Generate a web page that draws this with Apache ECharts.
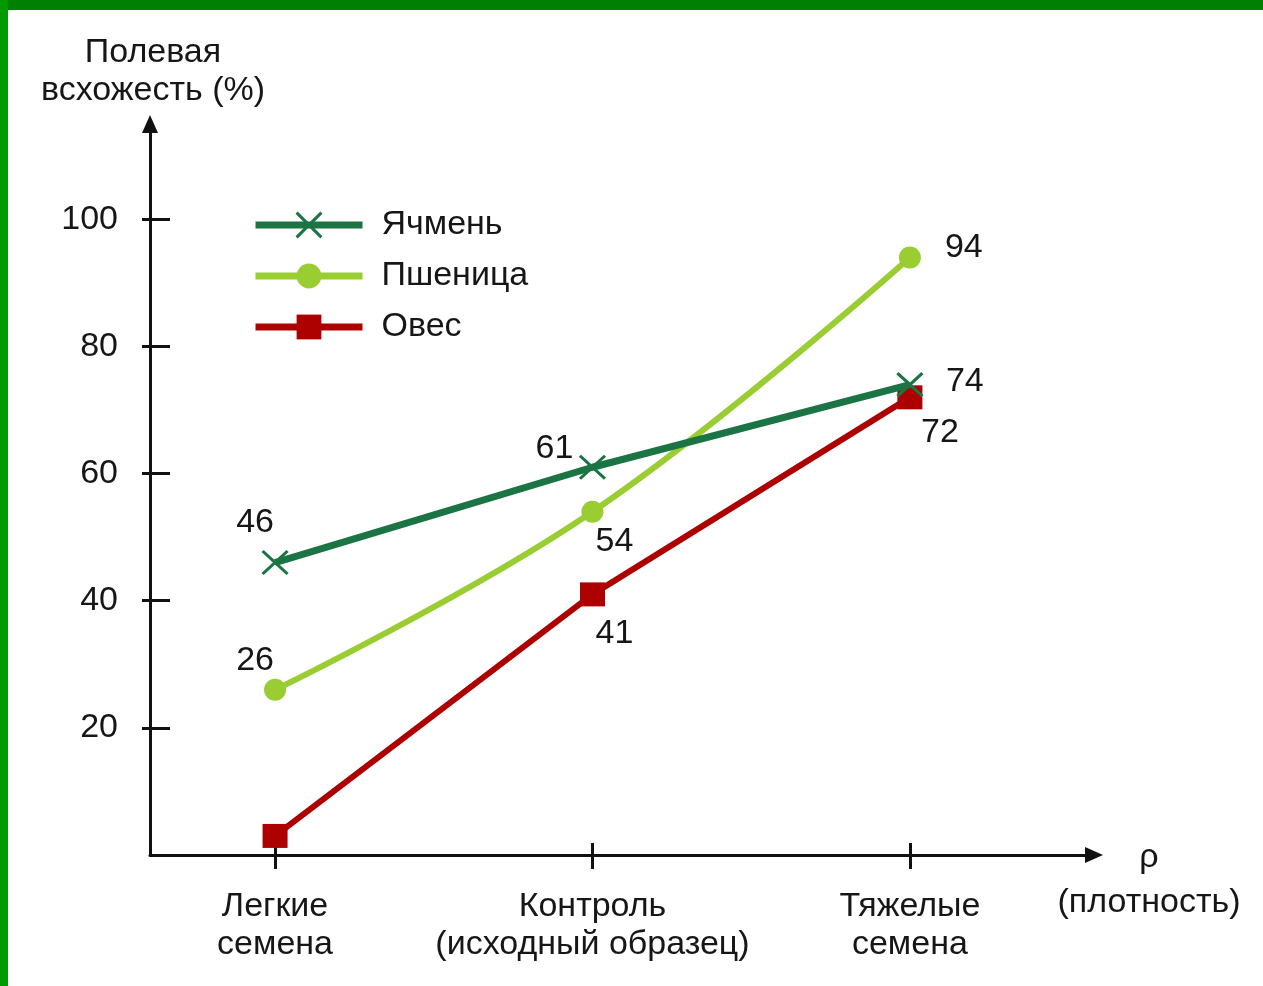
<!DOCTYPE html>
<html>
<head>
<meta charset="utf-8">
<script src="https://cdn.jsdelivr.net/npm/echarts@6/dist/echarts.min.js"></script>
<style>
  html, body { margin: 0; padding: 0; background: #ffffff; }
  #chart { width: 1263px; height: 986px; }
</style>
</head>
<body>
<div id="chart"></div>
<script>
// Field emergence of seed fractions by density
const categories = ['Легкие\nсемена', 'Контроль\n(исходный образец)', 'Тяжелые\nсемена'];
const seriesNames = ['Ячмень', 'Пшеница', 'Овес'];
const barley = [46, 61, 74];
const wheat = [26, 54, 94];
const oats = [3, 41, 72];
const oatsShown = [false, true, true];
const yTickValues = [20, 40, 60, 80, 100];
const xTickValues = [0, 1, 2];
const yAxisName = 'Полевая\nвсхожесть (%)';
const xAxisName = 'ρ\n(плотность)';

const FONT = '"Liberation Sans", Arial, Helvetica, sans-serif';
const FS = 34;
const INK = '#161616';
const AXIS = '#111111';
const COLORS = { barley: '#1b7443', wheat: '#9acd32', oats: '#ad0000' };

// value-label placement around each marker
const barleyLabels = [
  { position: 'top', offset: [-20, -5] },
  { position: 'top', offset: [-38, 16] },
  { position: 'right', offset: [17, -3] }
];
const wheatLabels = [
  { position: 'top', offset: [-20, 4] },
  { position: 'bottom', offset: [22, -3] },
  { position: 'right', offset: [19, -10] }
];
const oatsLabels = [
  { position: 'bottom', offset: [0, 0] },
  { position: 'bottom', offset: [22, 5] },
  { position: 'bottom', offset: [30, 1] }
];

const labelText = { fontSize: FS, color: INK, fontFamily: FONT, distance: 5 };

function buildData(values, placements, shown) {
  return values.map((v, i) => ({
    value: [i, v],
    label: Object.assign({ show: shown ? shown[i] : true }, placements[i])
  }));
}

const chart = echarts.init(document.getElementById('chart'), null, { renderer: 'canvas' });

const xRange = { min: -0.394, max: 2.58 };
const yRange = { min: 0, max: 115 };

const option = {
  backgroundColor: '#ffffff',
  animation: false,
  textStyle: { fontFamily: FONT },
  graphic: [
    { type: 'rect', left: 0, top: 0, shape: { width: 1263, height: 10 }, style: { fill: '#008000' }, z: 100 },
    { type: 'rect', left: 0, top: 0, shape: { width: 8, height: 986 }, style: { fill: '#009a00' }, z: 100 },
    {
      type: 'text', left: 1149 - 100, top: 835, z: 50,
      style: { text: xAxisName, width: 200, align: 'center', fontSize: FS, lineHeight: 45, fill: INK, font: FS + 'px ' + FONT, textAlign: 'center' }
    }
  ],
  grid: { left: 150, right: 169, top: 124, bottom: 131, containLabel: false },
  legend: {
    orient: 'vertical',
    left: 247,
    top: 203,
    itemWidth: 107,
    itemHeight: 31,
    itemGap: 17,
    data: [
      { name: seriesNames[0], itemStyle: { borderWidth: 3 } },
      { name: seriesNames[1], itemStyle: { borderWidth: 0 } },
      { name: seriesNames[2], itemStyle: { borderWidth: 0 } }
    ],
    lineStyle: { width: 7 },
    textStyle: { fontSize: FS, lineHeight: 31, color: INK, fontFamily: FONT, padding: [0, 0, 0, 14] }
  },
  xAxis: [
    {
      type: 'value', min: xRange.min, max: xRange.max, position: 'bottom',
      axisLine: { show: true, onZero: false, symbol: ['none', 'triangle'], symbolSize: [16, 18], lineStyle: { color: AXIS, width: 3, cap: 'round', join: 'round' } },
      axisTick: { show: true, inside: false, length: 14, customValues: xTickValues, lineStyle: { color: AXIS, width: 3 } },
      axisLabel: {
        show: true, margin: 33, customValues: xTickValues,
        formatter: v => categories[Math.round(v)] || '',
        fontSize: FS, lineHeight: 38, color: INK, fontFamily: FONT, align: 'center'
      },
      splitLine: { show: false }
    },
    {
      type: 'value', min: xRange.min, max: xRange.max, position: 'bottom', offset: 0,
      axisLine: { show: false, onZero: false },
      axisTick: { show: true, inside: true, length: 12, customValues: xTickValues, lineStyle: { color: AXIS, width: 3 } },
      axisLabel: { show: false },
      splitLine: { show: false }
    }
  ],
  yAxis: [
    {
      type: 'value', min: yRange.min, max: yRange.max, position: 'left',
      name: yAxisName, nameLocation: 'end', nameGap: 14,
      nameTextStyle: { fontSize: FS, lineHeight: 38, color: INK, fontFamily: FONT, align: 'center', verticalAlign: 'bottom', padding: [0, 0, 0, 6] },
      axisLine: { show: true, onZero: false, symbol: ['none', 'triangle'], symbolSize: [16, 18], lineStyle: { color: AXIS, width: 3, cap: 'round', join: 'round' } },
      axisTick: { show: true, inside: false, length: 8, customValues: yTickValues, lineStyle: { color: AXIS, width: 3 } },
      axisLabel: { show: true, margin: 32, customValues: yTickValues, fontSize: FS, color: INK, fontFamily: FONT },
      splitLine: { show: false }
    },
    {
      type: 'value', min: yRange.min, max: yRange.max, position: 'left', offset: 0,
      axisLine: { show: false, onZero: false },
      axisTick: { show: true, inside: true, length: 20, customValues: yTickValues, lineStyle: { color: AXIS, width: 3 } },
      axisLabel: { show: false },
      splitLine: { show: false }
    }
  ],
  series: [
    {
      name: seriesNames[0], type: 'line', xAxisIndex: 0, yAxisIndex: 0,
      data: buildData(barley, barleyLabels),
      symbol: 'path://M0,0L24,22M24,0L0,22', symbolSize: [25, 23],
      lineStyle: { color: COLORS.barley, width: 7 },
      itemStyle: { color: COLORS.barley, borderColor: COLORS.barley, borderWidth: 3 },
      label: Object.assign({ formatter: p => p.value[1] }, labelText),
      z: 3
    },
    {
      name: seriesNames[1], type: 'line', xAxisIndex: 0, yAxisIndex: 0,
      data: buildData(wheat, wheatLabels), smooth: 0.4,
      symbol: 'circle', symbolSize: 22,
      lineStyle: { color: COLORS.wheat, width: 6 },
      itemStyle: { color: COLORS.wheat, borderWidth: 0 },
      label: Object.assign({ formatter: p => p.value[1] }, labelText),
      z: 2
    },
    {
      name: seriesNames[2], type: 'line', xAxisIndex: 0, yAxisIndex: 0,
      data: buildData(oats, oatsLabels, oatsShown),
      symbol: 'rect', symbolSize: [25, 24],
      lineStyle: { color: COLORS.oats, width: 6 },
      itemStyle: { color: COLORS.oats, borderWidth: 0 },
      label: Object.assign({ formatter: p => p.value[1] }, labelText),
      z: 2
    }
  ]
};

chart.setOption(option);
</script>
</body>
</html>
